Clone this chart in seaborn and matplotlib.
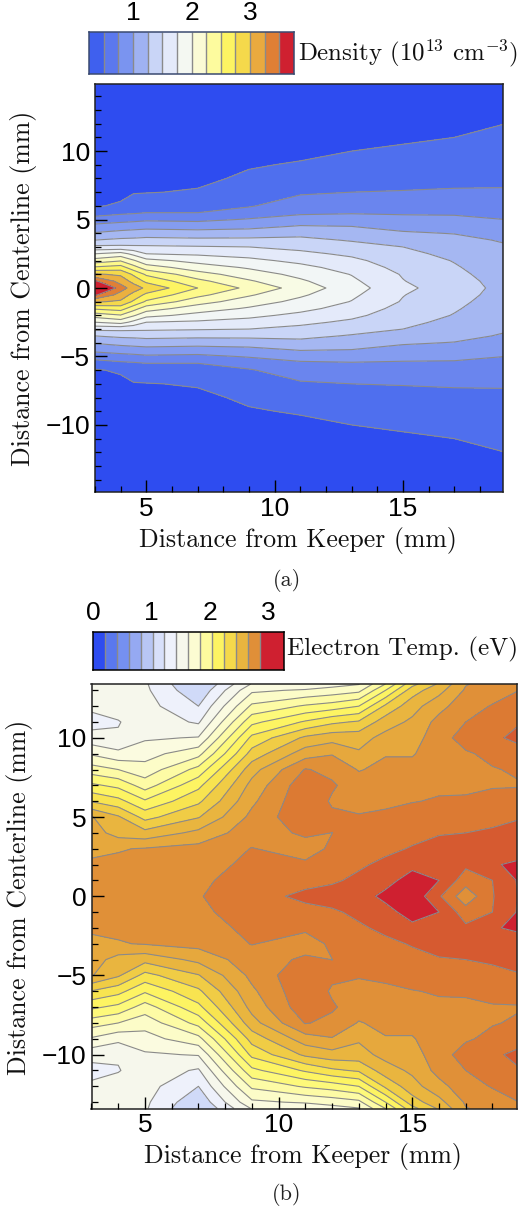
import numpy as np
import matplotlib
matplotlib.use('Agg')
import matplotlib.pyplot as plt
import seaborn as sns
from matplotlib.colors import ListedColormap
from matplotlib.ticker import MultipleLocator

# density panel, upper half only (y >= 0), mirrored below
density_y = [0, 0.5, 1, 1.5, 2, 2.5, 3, 3.5, 4, 4.5, 5, 5.5, 6, 7, 8, 9, 10, 11, 12, 13, 15]
density_x = [3, 4, 4.5, 5, 7, 9, 11, 13, 15, 17, 19]
density_x3 = [4.30, 3.79, 3.28, 2.79, 2.36, 2.00, 1.56, 1.25, 1.02, .83, .60, .39, .23, .17, .15, .13, .11, .10, .09, .08, .05]
density_x4 = [3.62, 3.40, 3.21, 2.86, 2.48, 2.10, 1.56, 1.30, 1.08, .875, .66, .45, .28, .19, .16, .14, .12, .10, .09, .08, .05]
density_x45 = [3.38, 3.17, 2.96, 2.60, 2.28, 1.93, 1.55, 1.31, 1.10, .90, .68, .47, .33, .24, .17, .14, .12, .10, .09, .08, .05]
density_x5 = [3.20, 2.94, 2.71, 2.37, 2.08, 1.75, 1.54, 1.33, 1.12, .92, .71, .50, .41, .24, .19, .15, .13, .11, .10, .08, .05]
density_x7 = [2.75, 2.57, 2.35, 2.125, 1.92, 1.71, 1.52, 1.31, 1.10, .90, .69, .50, .42, .27, .20, .16, .14, .12, .10, .08, .05]
density_x9 = [2.44, 2.28, 2.125, 1.97, 1.81, 1.66, 1.50, 1.31, 1.12, .93, .77, .60, .48, .38, .29, .23, .18, .14, .11, .09, .06]
density_x11 = [2.14, 2.04, 1.93, 1.82, 1.69, 1.56, 1.43, 1.31, 1.18, 1.02, .85, .71, .62, .47, .37, .27, .20, .16, .13, .10, .06]
density_x13 = [1.86, 1.80, 1.74, 1.65, 1.56, 1.45, 1.34, 1.23, 1.11, 1.00, .86, .73, .66, .50, .42, .33, .25, .20, .15, .12, .07]
density_x15 = [1.56, 1.51, 1.48, 1.42, 1.36, 1.30, 1.25, 1.14, 1.03, .92, .82, .72, .65, .51, .43, .36, .28, .22, .18, .14, .08]
density_x17 = [1.36, 1.33, 1.30, 1.27, 1.24, 1.20, 1.16, 1.08, .99, .89, .80, .72, .65, .52, .45, .38, .32, .25, .20, .16, .09]
density_x19 = [1.18, 1.17, 1.15, 1.13, 1.11, 1.07, 1.03, .97, .89, .82, .75, .69, .64, .52, .46, .41, .36, .30, .25, .20, .10]
density_levels = [0, .25, .5, .75, 1, 1.25, 1.5, 1.75, 2, 2.25, 2.5, 2.75, 3, 3.25, 3.5, 3.75, 6]
density_colors = ['#2e4cf0', '#4f6fee', '#6a85ee', '#849cf0', '#a5b7f2', '#c9d5f7', '#e4eafa', '#f2f6f6',
                  '#f8fbe5', '#fcfcc0', '#fdf98a', '#fdf462', '#f5d94b', '#ebb03f', '#e07f35', '#cf2030']
density_bar = ['#3f60ee', '#5b78ee', '#7a94f0', '#9fb2f2', '#c9d5f7', '#e4eafa', '#f4f8f2',
               '#fbfbd5', '#fdfb9e', '#fdf462', '#f5d94b', '#e9aa3f', '#e07f35', '#cf2030']
density_bar_ticks = [1, 2, 3]

# temperature panel, upper half only, mirrored below
temp_y = [0, 1, 2, 3, 4, 5, 6, 7, 8, 9, 10, 11, 12, 13, 13.4]
temp_x = [3, 4, 5, 7, 9, 11, 12, 13, 14, 15, 16, 17, 18, 19]
temp_x3 = [2.78, 2.75, 2.72, 2.67, 2.62, 2.56, 2.24, 1.98, 1.72, 1.48, 1.25, 1.15, 1.23, 1.25, 1.26]
temp_x4 = [2.79, 2.76, 2.73, 2.69, 2.49, 2.42, 2.15, 1.91, 1.65, 1.39, 1.22, 1.19, 1.27, 1.28, 1.28]
temp_x5 = [2.80, 2.77, 2.75, 2.71, 2.45, 2.20, 1.97, 1.73, 1.56, 1.44, 1.33, 1.29, 1.26, 1.23, 1.22]
temp_x7 = [2.84, 2.82, 2.78, 2.75, 2.59, 2.39, 2.22, 2.06, 1.85, 1.60, 1.36, 1.18, 1.05, .93, .88]
temp_x9 = [2.95, 2.92, 2.89, 2.855, 2.79, 2.74, 2.67, 2.60, 2.49, 2.31, 2.14, 1.91, 1.68, 1.47, 1.36]
temp_x11 = [3.03, 2.96, 2.87, 2.80, 2.87, 2.97, 2.97, 2.95, 2.86, 2.63, 2.43, 2.12, 1.82, 1.52, 1.37]
temp_x12 = [3.06, 2.98, 2.92, 2.87, 2.849, 2.88, 2.83, 2.87, 2.81, 2.69, 2.49, 2.22, 1.87, 1.56, 1.44]
temp_x13 = [3.10, 3.03, 2.98, 2.94, 2.90, 2.86, 2.81, 2.77, 2.69, 2.57, 2.49, 2.27, 1.95, 1.61, 1.49]
temp_x14 = [3.18, 3.11, 3.03, 2.97, 2.93, 2.87, 2.83, 2.78, 2.74, 2.69, 2.60, 2.48, 2.28, 1.95, 1.80]
temp_x15 = [3.26, 3.20, 3.12, 3.01, 2.96, 2.90, 2.845, 2.80, 2.74, 2.69, 2.64, 2.58, 2.49, 2.33, 2.20]
temp_x16 = [3.02, 3.15, 3.10, 3.05, 2.99, 2.92, 2.86, 2.83, 2.79, 2.77, 2.78, 2.75, 2.65, 2.50, 2.42]
temp_x17 = [2.75, 2.92, 3.03, 3.07, 3.00, 2.95, 2.87, 2.82, 2.79, 2.83, 2.92, 2.85, 2.79, 2.72, 2.69]
temp_x18 = [2.99, 3.00, 3.14, 3.08, 3.02, 2.96, 2.89, 2.84, 2.84, 2.89, 2.97, 2.95, 2.86, 2.78, 2.76]
temp_x19 = [3.16, 3.17, 3.17, 3.10, 3.05, 2.99, 2.92, 2.84, 2.87, 2.94, 3.04, 2.99, 2.92, 2.85, 2.83]
temp_levels = [0, 1.05, 1.2, 1.35, 1.5, 1.65, 1.8, 1.95, 2.1, 2.25, 2.4, 2.55, 2.7, 2.85, 3.0, 3.15, 5]
temp_colors = ['#d0daf8', '#eef1fb', '#f6f7ec', '#fbfbe0', '#fcfcc8', '#fdfba5', '#fdf97a', '#fdf462',
               '#f8e450', '#f0cc45', '#e9b53f', '#e6a83d', '#e09038', '#dc7a33', '#d65a30', '#cf2030']
temp_bar = ['#2e4cf0', '#5a78ee', '#7590f0', '#95a9f2', '#b8c6f4', '#d8e0fa', '#eef1fb', '#f6f7ec',
            '#fcfcd2', '#fdfb9e', '#fdf462', '#f5d94b', '#e9b53f', '#e08f38', '#cf2030', '#cf2030']
temp_bar_ticks = [0, 1, 2, 3]

sns.set_theme(style='ticks')
plt.rcParams['font.family'] = ['Liberation Sans', 'DejaVu Sans']
plt.rcParams['mathtext.fontset'] = 'cm'
plt.rcParams['axes.unicode_minus'] = True

W, H = 523, 1215
SERIF = 'cmr10'
LABEL_SIZE = 18.6
TICK_SIZE = 19
fig = plt.figure(figsize=(W / 100, H / 100), dpi=100, facecolor='white')


def px_axes(left, top, right, bottom):
    return fig.add_axes([left / W, 1 - bottom / H, (right - left) / W, (bottom - top) / H])


def px_text(x, y, s, **kw):
    fig.text(x / W, 1 - y / H, s, va='center', **kw)


def mirrored(y, columns):
    z = np.column_stack(columns)
    y = np.array(y)
    return np.concatenate((-y[:0:-1], y)), np.vstack((z[:0:-1], z))


def panel(box, x, y, z, levels, colors, xlim, ylim):
    ax = px_axes(*box)
    ax.contourf(x, y, z, levels=levels, colors=colors)
    ax.contour(x, y, z, levels=levels[1:-1], colors='#8a8a8a', linewidths=0.8)
    ax.set_axisbelow(False)
    ax.set_xlim(*xlim)
    ax.set_ylim(*ylim)
    ax.set_xticks([5, 10, 15])
    ax.set_yticks([-10, -5, 0, 5, 10])
    ax.xaxis.set_minor_locator(MultipleLocator(1))
    ax.yaxis.set_minor_locator(MultipleLocator(1))
    ax.tick_params(which='major', direction='in', length=8.5, width=1, labelsize=TICK_SIZE, color='black',
                   labelcolor='black', pad=3.5, top=False, right=False)
    ax.tick_params(which='minor', direction='in', length=4.3, width=0.9, color='black', top=False, right=False)
    for side in ax.spines:
        ax.spines[side].set_visible(True)
        ax.spines[side].set_linewidth(1.1)
        ax.spines[side].set_color('#222222')
    return ax


def bar(box, colors, tick_pos, tick_labels, frame, skip_last_line=False):
    ax = px_axes(*box)
    cells = np.arange(len(colors), dtype=float).reshape(1, -1)
    sns.heatmap(cells, ax=ax, cmap=ListedColormap(colors), cbar=False, xticklabels=False, yticklabels=False,
                vmin=-0.5, vmax=len(colors) - 0.5)
    n = len(colors) - 1 if skip_last_line else len(colors)
    ax.vlines(range(1, n), 0, 1, colors='#8a8a8a', linewidth=1)
    ax.set_xticks(tick_pos)
    ax.set_xticklabels(tick_labels)
    ax.xaxis.tick_top()
    ax.tick_params(axis='x', length=0, labelsize=TICK_SIZE, pad=5, labelcolor='black', labelrotation=0)
    for side in ax.spines:
        ax.spines[side].set_visible(True)
        ax.spines[side].set_linewidth(1.1)
        ax.spines[side].set_color(frame)
    return ax


# (a)
dy, dz = mirrored(density_y, [density_x3, density_x4, density_x45, density_x5, density_x7, density_x9,
                              density_x11, density_x13, density_x15, density_x17, density_x19])
panel((95, 84, 503, 492), density_x, dy, dz, density_levels, density_colors, (3, 18.9), (-14.9, 14.9))
bar((89, 32, 294, 74), density_bar, [(t - 0.25) / 0.25 for t in density_bar_ticks],
    [str(t) for t in density_bar_ticks], '#3a4a70')
px_text(298, 53, r'Density ($10^{13}$ cm$^{-3}$)', family=SERIF, fontsize=17.9, color='#111111')
px_text(298, 541, 'Distance from Keeper (mm)', family=SERIF, fontsize=LABEL_SIZE, ha='center', color='#111111')
px_text(24, 288, 'Distance from Centerline (mm)', family=SERIF, fontsize=LABEL_SIZE, ha='center', rotation=90, color='#111111')
px_text(287, 581, '(a)', family=SERIF, fontsize=16, ha='center', color='#222222')

# (b)
ty, tz = mirrored(temp_y, [temp_x3, temp_x4, temp_x5, temp_x7, temp_x9, temp_x11, temp_x12,
                           temp_x13, temp_x14, temp_x15, temp_x16, temp_x17, temp_x18, temp_x19])
panel((91.5, 684, 516.5, 1108.5), temp_x, ty, tz, temp_levels, temp_colors, (3, 18.9), (-13.4, 13.4))
bar((93, 632, 283.5, 670), temp_bar, [t * 4.9 for t in temp_bar_ticks],
    [str(t) for t in temp_bar_ticks], 'black', skip_last_line=True)
px_text(287, 649, 'Electron Temp. (eV)', family=SERIF, fontsize=18.2, color='#111111')
px_text(303, 1157, 'Distance from Keeper (mm)', family=SERIF, fontsize=LABEL_SIZE, ha='center', color='#111111')
px_text(20, 897, 'Distance from Centerline (mm)', family=SERIF, fontsize=LABEL_SIZE, ha='center', rotation=90, color='#111111')
px_text(287, 1195, '(b)', family=SERIF, fontsize=16, ha='center', color='#222222')

fig.savefig('out.png', dpi=100)
